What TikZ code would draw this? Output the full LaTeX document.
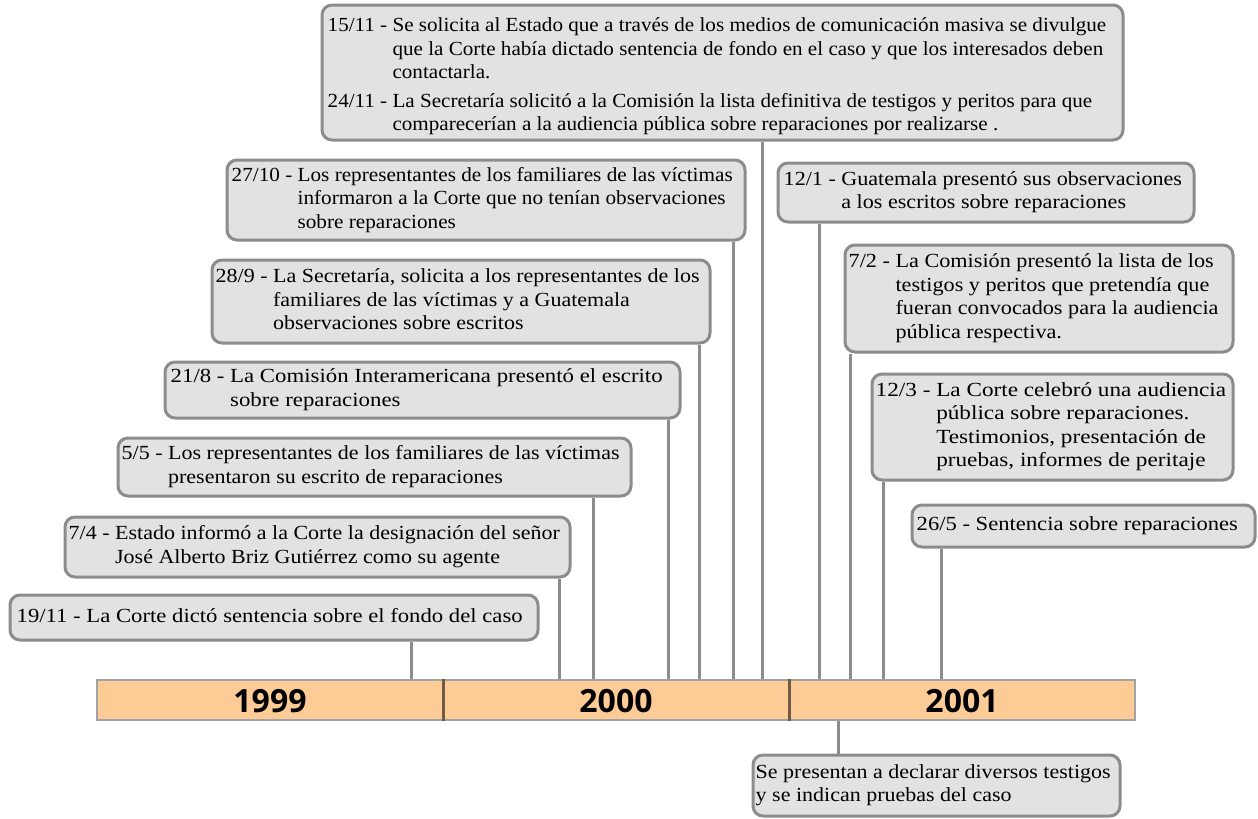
\documentclass[tikz,border=0pt]{standalone}
\usepackage{fontspec}
\usepackage{graphicx}
\setmainfont{Liberation Serif}
\newfontfamily\yearfont{Open Sans}
\usetikzlibrary{fit}
\definecolor{boxfill}{HTML}{E2E2E2}
\definecolor{boxdraw}{HTML}{8C8C8C}
\definecolor{barfill}{HTML}{FDCB96}
\definecolor{bardraw}{HTML}{A3A3A3}
\definecolor{divcol}{HTML}{6E5A45}
\tikzset{
  evb/.style={draw=boxdraw, fill=boxfill, line width=3pt, rounded corners=10pt, inner sep=0pt},
  evtext/.style={anchor=west, inner sep=0pt, align=left, font=\fontsize{20}{23.5}\selectfont},
  conn/.style={draw=boxdraw, line width=3pt},
  barbox/.style={draw=bardraw, fill=barfill, line width=2.5pt, inner sep=0pt},
  divline/.style={draw=divcol, line width=3pt},
  year/.style={font=\yearfont\bfseries\fontsize{32}{34}\selectfont, inner sep=0pt}
}
\newcommand\dt[3][1.1]{\scalebox{#1}[1]{\begin{tabular}{@{}l@{\ }l@{}}#2&#3\end{tabular}}}
\newcommand\pl[2][1.1]{\scalebox{#1}[1]{\begin{tabular}{@{}l@{}}#2\end{tabular}}}
\begin{document}
\begin{tikzpicture}[x=1pt,y=-1pt]
\useasboundingbox (0,0) rectangle (1258,819);
% timeline bar
\node[barbox, fit={(97,680) (1135,720)}] (bar) {};
\draw[divline] (bar.north -| 443,0) -- (bar.south -| 443,0);
\draw[divline] (bar.north -| 789,0) -- (bar.south -| 789,0);
\node[year] (y1999) at (270,701) {1999};
\node[year] (y2000) at (616,701) {2000};
\node[year] (y2001) at (962,701) {2001};

% boxes
\node[evb, fit={(322,5) (1123,140)}] (b1) {};
\node[evtext] (t1) at ([xshift=7pt,yshift=-4pt]b1.west) {\dt[1.055]{15/11 -}{Se solicita al Estado que a través de los medios de comunicación masiva se divulgue\\ & que la Corte había dictado sentencia de fondo en el caso y que los interesados deben\\ & contactarla.\\[5pt] 24/11 - & La Secretaría solicitó a la Comisión la lista definitiva de testigos y peritos para que\\ & comparecerían a la audiencia pública sobre reparaciones por realizarse .}};

\node[evb, fit={(227,160) (745,240)}] (b2) {};
\node[evtext] (t2) at ([xshift=6pt]b2.west) {\dt[1.06]{27/10 -}{Los representantes de los familiares de las víctimas\\ & informaron a la Corte que no tenían observaciones\\ & sobre reparaciones}};

\node[evb, fit={(212,260) (710,343)}] (b3) {};
\node[evtext] (t3) at ([xshift=5pt]b3.west) {\dt[1.10]{28/9 -}{La Secretaría, solicita a los representantes de los\\ & familiares de las víctimas y a Guatemala\\ & observaciones sobre escritos}};

\node[evb, fit={(165,362) (680,418)}] (b4) {};
\node[evtext] (t4) at ([xshift=7pt]b4.west) {\dt[1.14]{21/8 -}{La Comisión Interamericana presentó el escrito\\ & sobre reparaciones}};

\node[evb, fit={(118,438) (631,496)}] (b5) {};
\node[evtext] (t5) at ([xshift=5pt]b5.west) {\dt[1.10]{5/5 -}{Los representantes de los familiares de las víctimas\\ & presentaron su escrito de reparaciones}};

\node[evb, fit={(65,517) (570,577)}] (b6) {};
\node[evtext] (t6) at ([xshift=5pt]b6.west) {\dt[1.10]{7/4 -}{Estado informó a la Corte la designación del señor\\ & José Alberto Briz Gutiérrez como su agente}};

\node[evb, fit={(10,595) (538,640)}] (b7) {};
\node[evtext] (t7) at ([xshift=8pt]b7.west) {\pl[1.135]{19/11 - La Corte dictó sentencia sobre el fondo del caso}};

\node[evb, fit={(778,163) (1194,222)}] (b8) {};
\node[evtext] (t8) at ([xshift=7pt]b8.west) {\dt[1.105]{12/1 -}{Guatemala presentó sus observaciones\\ & a los escritos sobre reparaciones}};

\node[evb, fit={(845,245) (1233,352)}] (b9) {};
\node[evtext] (t9) at ([xshift=5pt]b9.west) {\dt[1.11]{7/2 -}{La Comisión presentó la lista de los\\ & testigos y peritos que pretendía que\\ & fueran convocados para la audiencia\\ & pública respectiva.}};

\node[evb, fit={(872,374) (1233,480)}] (b10) {};
\node[evtext] (t10) at ([xshift=5pt]b10.west) {\dt[1.16]{12/3 -}{La Corte celebró una audiencia\\ & pública sobre reparaciones.\\ & Testimonios, presentación de\\ & pruebas, informes de peritaje}};

\node[evb, fit={(912,505) (1255,547)}] (b11) {};
\node[evtext] (t11) at ([xshift=6pt]b11.west) {\pl[1.13]{26/5 - Sentencia sobre reparaciones}};

\node[evb, fit={(753,755) (1120,816)}] (b12) {};
\node[evtext] (t12) at ([xshift=4pt]b12.west) {\pl[1.10]{Se presentan a declarar diversos testigos\\ y se indican pruebas del caso}};

% connectors
\draw[conn] (b1.south -| 762,0) -- (bar.north -| 762,0);
\draw[conn] (b2.south -| 733,0) -- (bar.north -| 733,0);
\draw[conn] (b3.south -| 699,0) -- (bar.north -| 699,0);
\draw[conn] (b4.south -| 668,0) -- (bar.north -| 668,0);
\draw[conn] (b5.south -| 593,0) -- (bar.north -| 593,0);
\draw[conn] (b6.south -| 559,0) -- (bar.north -| 559,0);
\draw[conn] (b7.south -| 411,0) -- (bar.north -| 411,0);
\draw[conn] (b8.south -| 819,0) -- (bar.north -| 819,0);
\draw[conn] (b9.south -| 850,0) -- (bar.north -| 850,0);
\draw[conn] (b10.south -| 883,0) -- (bar.north -| 883,0);
\draw[conn] (b11.south -| 941,0) -- (bar.north -| 941,0);
\draw[conn] (bar.south -| 838,0) -- (b12.north -| 838,0);
\end{tikzpicture}
\end{document}
